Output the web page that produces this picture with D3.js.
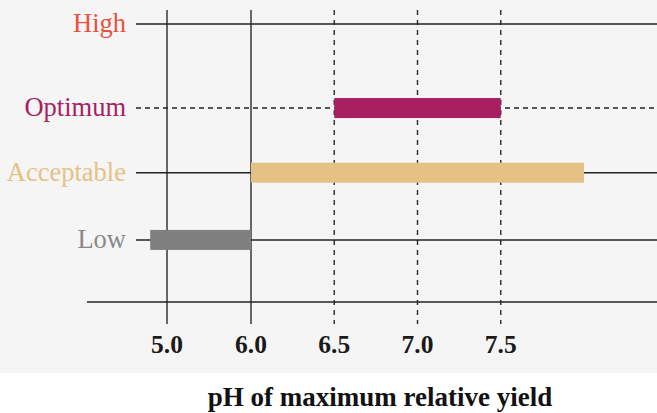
<!DOCTYPE html>
<html>
<head>
<meta charset="utf-8">
<script src="https://cdn.jsdelivr.net/npm/d3@7"></script>
<style>
  html, body { margin: 0; padding: 0; background: #fff; }
  svg { display: block; }
</style>
</head>
<body>
<div id="chart"></div>
<script>
// pH classes and where each sits on the vertical scale
const categories = ["High", "Optimum", "Acceptable", "Low"];
const levels = [4.3, 3, 2, 0.96];
const rangeStart = [null, 6.5, 6.0, 4.8];
const rangeEnd = [null, 7.5, 8.0, 6.0];
const labelColors = ["#e9523e", "#a81f62", "#e6c186", "#888888"];
const barColors = ["#e9523e", "#a81f62", "#e6c186", "#7f7f7f"];
const rowDashed = [false, true, false, false];

// x ticks
const tickValues = [5.0, 6.0, 6.5, 7.0, 7.5];
const tickLabels = ["5.0", "6.0", "6.5", "7.0", "7.5"];
const tickDashed = [false, false, true, true, true];

const width = 657, height = 413;
const panelBottom = 373;

const svg = d3.select("#chart").append("svg")
    .attr("width", width)
    .attr("height", height);

svg.append("rect")
    .attr("width", width)
    .attr("height", panelBottom)
    .attr("fill", "#f5f5f5");

// the axis is stretched above 6.0
const x = d3.scaleLinear().domain([5, 6, 8]).range([167, 251, 584]);
const y = d3.scaleLinear().domain([0, 4.3]).range([302, 24]);

const rows = categories.map((c, i) => ({
    name: c, level: levels[i], start: rangeStart[i], end: rangeEnd[i],
    label: labelColors[i], bar: barColors[i], dashed: rowDashed[i]
}));

// vertical gridlines
svg.append("g").selectAll("line")
    .data(tickValues)
    .enter().append("line")
    .attr("x1", d => x(d)).attr("x2", d => x(d))
    .attr("y1", 10).attr("y2", 324)
    .attr("stroke", "#2a2a2a")
    .attr("stroke-width", 1.4)
    .attr("stroke-dasharray", (d, i) => tickDashed[i] ? "5,5" : null);

// bottom axis line
svg.append("line")
    .attr("x1", 87).attr("x2", width)
    .attr("y1", y(0)).attr("y2", y(0))
    .attr("stroke", "#222").attr("stroke-width", 1.4);

// row lines
svg.append("g").selectAll("line")
    .data(rows)
    .enter().append("line")
    .attr("x1", 136).attr("x2", width)
    .attr("y1", d => y(d.level)).attr("y2", d => y(d.level))
    .attr("stroke", "#222")
    .attr("stroke-width", 1.4)
    .attr("stroke-dasharray", d => d.dashed ? "5,4" : null);

// range bars
svg.append("g").selectAll("rect")
    .data(rows.filter(d => d.start != null))
    .enter().append("rect")
    .attr("x", d => x(d.start))
    .attr("width", d => x(d.end) - x(d.start))
    .attr("y", d => y(d.level) - 10)
    .attr("height", 20)
    .attr("fill", d => d.bar);

// row labels
svg.append("g").selectAll("text")
    .data(rows)
    .enter().append("text")
    .attr("x", 126)
    .attr("y", d => y(d.level) + 8)
    .attr("text-anchor", "end")
    .attr("font-family", "'Liberation Serif', serif")
    .attr("font-size", 26.5)
    .attr("fill", d => d.label)
    .text(d => d.name);

// tick labels
svg.append("g").selectAll("text")
    .data(tickValues)
    .enter().append("text")
    .attr("x", d => x(d))
    .attr("y", 353)
    .attr("text-anchor", "middle")
    .attr("font-family", "'Liberation Serif', serif")
    .attr("font-weight", "bold")
    .attr("font-size", 25.5)
    .attr("fill", "#1a1a1a")
    .text((d, i) => tickLabels[i]);

svg.append("text")
    .attr("x", 380)
    .attr("y", 406)
    .attr("text-anchor", "middle")
    .attr("font-family", "'Liberation Serif', serif")
    .attr("font-weight", "bold")
    .attr("font-size", 27)
    .attr("fill", "#111")
    .text("pH of maximum relative yield");
</script>
</body>
</html>
